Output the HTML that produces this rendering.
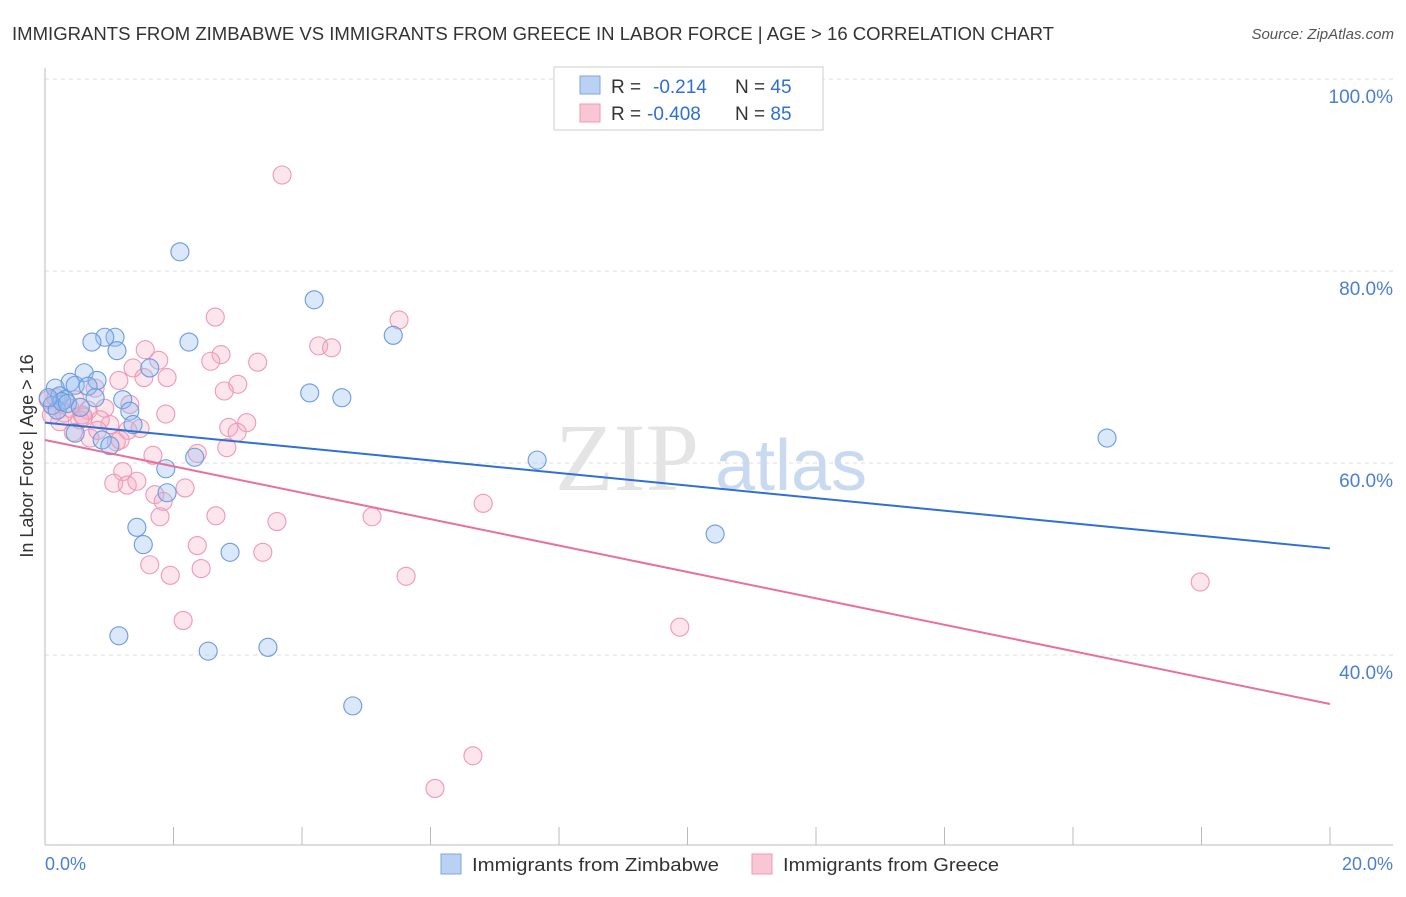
<!DOCTYPE html>
<html><head><meta charset="utf-8"><style>
body{margin:0;background:#fff;font-family:"Liberation Sans",sans-serif;}
</style></head><body>
<svg width="1406" height="892" xmlns="http://www.w3.org/2000/svg">
<text x="12" y="40" font-size="18" fill="#333" textLength="1042" lengthAdjust="spacingAndGlyphs">IMMIGRANTS FROM ZIMBABWE VS IMMIGRANTS FROM GREECE IN LABOR FORCE | AGE &gt; 16 CORRELATION CHART</text>
<text x="1394" y="39" font-size="15" fill="#555" font-style="italic" text-anchor="end">Source: ZipAtlas.com</text>
<g id="grid"></g>
<text x="555" y="490" font-size="96" fill="#e4e4e4" font-family="Liberation Serif">ZIP</text>
<text x="715" y="490" font-size="72" fill="#c9daf0">atlas</text>
<line x1="45" y1="68" x2="45" y2="845" stroke="#bbb"/>
<line x1="45" y1="845" x2="1393" y2="845" stroke="#bbb"/>
<g id="ticks"></g>
<text x="45" y="870" font-size="18" fill="#4a7fd4">0.0%</text>
<text x="1393" y="870" font-size="18" fill="#4a7fd4" text-anchor="end">20.0%</text>
<text transform="translate(33,456) rotate(-90)" font-size="18" fill="#333" text-anchor="middle">In Labor Force | Age &gt; 16</text>
<g id="pts"></g>
<g id="lines"></g>
<g>
<rect x="554" y="67" width="269" height="63" fill="#fff" stroke="#ccc"/>
<rect x="580" y="76" width="20" height="18" fill="#b9d1f3" stroke="#7ea6e0"/>
<rect x="580" y="104" width="20" height="18" fill="#f9c6d6" stroke="#ee9ab4"/>
<text x="611" y="93" font-size="19" fill="#333">R = <tspan x="653" fill="#2f6fd6">-0.214</tspan><tspan x="735">N = </tspan><tspan fill="#2f6fd6">45</tspan></text>
<text x="611" y="120" font-size="19" fill="#333">R = <tspan x="647" fill="#2f6fd6">-0.408</tspan><tspan x="735">N = </tspan><tspan fill="#2f6fd6">85</tspan></text>
</g>
<g>
<rect x="441" y="854" width="20" height="20" fill="#b9d1f3" stroke="#7ea6e0"/>
<text x="472" y="871" font-size="18" fill="#333" textLength="247" lengthAdjust="spacingAndGlyphs">Immigrants from Zimbabwe</text></g>
<g>
<rect x="752" y="854" width="20" height="20" fill="#f9c6d6" stroke="#ee9ab4"/>
<text x="783" y="871" font-size="18" fill="#333" textLength="216" lengthAdjust="spacingAndGlyphs">Immigrants from Greece</text></g>
</svg>
<script>
const yTicks=[100,80,60,40];
const blueX=[2.10,4.19,5.42,2.24,1.09,0.93,0.73,1.12,1.63,0.61,0.81,0.39,0.47,0.67,0.16,4.12,4.62,0.23,0.31,0.78,1.21,1.32,0.11,0.19,1.37,0.47,0.89,1.01,2.33,1.88,7.66,16.53,1.90,1.43,1.53,2.88,10.43,1.15,2.54,3.47,4.79,0.26,0.05,0.35,0.55];
const blueY=[82.0,77.0,73.3,72.6,73.1,73.1,72.6,71.7,69.9,69.4,68.6,68.4,68.1,68.0,67.8,67.3,66.8,67.0,66.6,66.8,66.6,65.4,66.0,65.5,64.0,63.1,62.4,61.8,60.6,59.4,60.3,62.6,56.9,53.3,51.5,50.7,52.6,42.0,40.4,40.8,34.7,66.4,66.8,66.2,65.8];
const pinkX=[3.69,2.65,5.51,4.26,4.46,1.56,2.74,1.77,2.58,3.31,1.37,1.54,1.15,1.90,3.0,2.79,0.78,1.32,0.93,1.88,0.12,0.39,0.67,0.23,0.54,1.01,3.14,2.86,2.99,1.29,0.44,0.70,1.11,2.83,1.68,2.37,1.21,1.07,1.28,1.43,2.18,1.71,1.84,1.79,2.66,3.61,5.09,6.82,2.37,3.39,1.63,1.95,2.43,5.62,2.15,9.88,17.98,6.66,6.07,0.05,0.17,0.47,0.58,0.86,1.17,1.48,0.82,0.30,0.10,0.60];
const pinkY=[90.0,75.2,74.9,72.2,72.0,71.8,71.3,70.7,70.6,70.5,69.9,68.9,68.6,68.9,68.2,67.5,67.8,66.1,65.7,65.1,66.0,65.7,65.5,64.3,64.5,64.0,64.2,63.7,63.2,63.4,63.2,62.6,62.2,61.6,60.8,61.0,59.1,57.9,57.7,58.1,57.4,56.7,56.0,54.4,54.5,53.9,54.4,55.8,51.4,50.7,49.4,48.3,49.0,48.2,43.6,42.9,47.6,29.5,26.1,66.6,66.8,66.6,65.0,64.5,62.4,63.6,63.4,65.2,65.0,64.8];
const blueTrend=[64.2,51.1];
const pinkTrend=[62.4,34.9];
const X=v=>45+v/20*1285, Y=v=>79+(100-v)/20*192;
const NS="http://www.w3.org/2000/svg";
function mk(tag,at,parent){const e=document.createElementNS(NS,tag);for(const k in at)e.setAttribute(k,at[k]);document.getElementById(parent).appendChild(e);return e;}
yTicks.forEach(t=>{
 const l=mk('line',{x1:45,x2:1393,y1:Y(t),y2:Y(t),stroke:'#ddd','stroke-dasharray':'4,4'},'grid');
 
 
 const tx=mk('text',{x:1393,y:Y(t)+24,'font-size':19,fill:'#4a7fd4','text-anchor':'end'},'grid');
 tx.textContent=t.toFixed(1)+'%';
 
 
});
for(let i=0;i<=10;i++){
 const l=mk('line',{x1:X(i*2),x2:X(i*2),y1:827,y2:845,stroke:'#bbb'},'ticks');
 
 
}
function pts(xs,ys,fill,stroke,name){xs.forEach((x,i)=>{
 const c=mk('circle',{cx:X(x),cy:Y(ys[i]),r:9,fill:fill,stroke:stroke,'stroke-width':1.1},'pts');
 
 
});}
pts(pinkX,pinkY,'rgba(246,170,195,0.3)','#ee9ab4','greece-point');
pts(blueX,blueY,'rgba(150,190,240,0.35)','#6a9be0','zimbabwe-point');
const b=mk('line',{x1:X(0),y1:Y(blueTrend[0]),x2:X(20),y2:Y(blueTrend[1]),stroke:'#2f6fd6','stroke-width':2},'lines');


const p=mk('line',{x1:X(0),y1:Y(pinkTrend[0]),x2:X(20),y2:Y(pinkTrend[1]),stroke:'#e8709a','stroke-width':2},'lines');


</script>
</body></html>
